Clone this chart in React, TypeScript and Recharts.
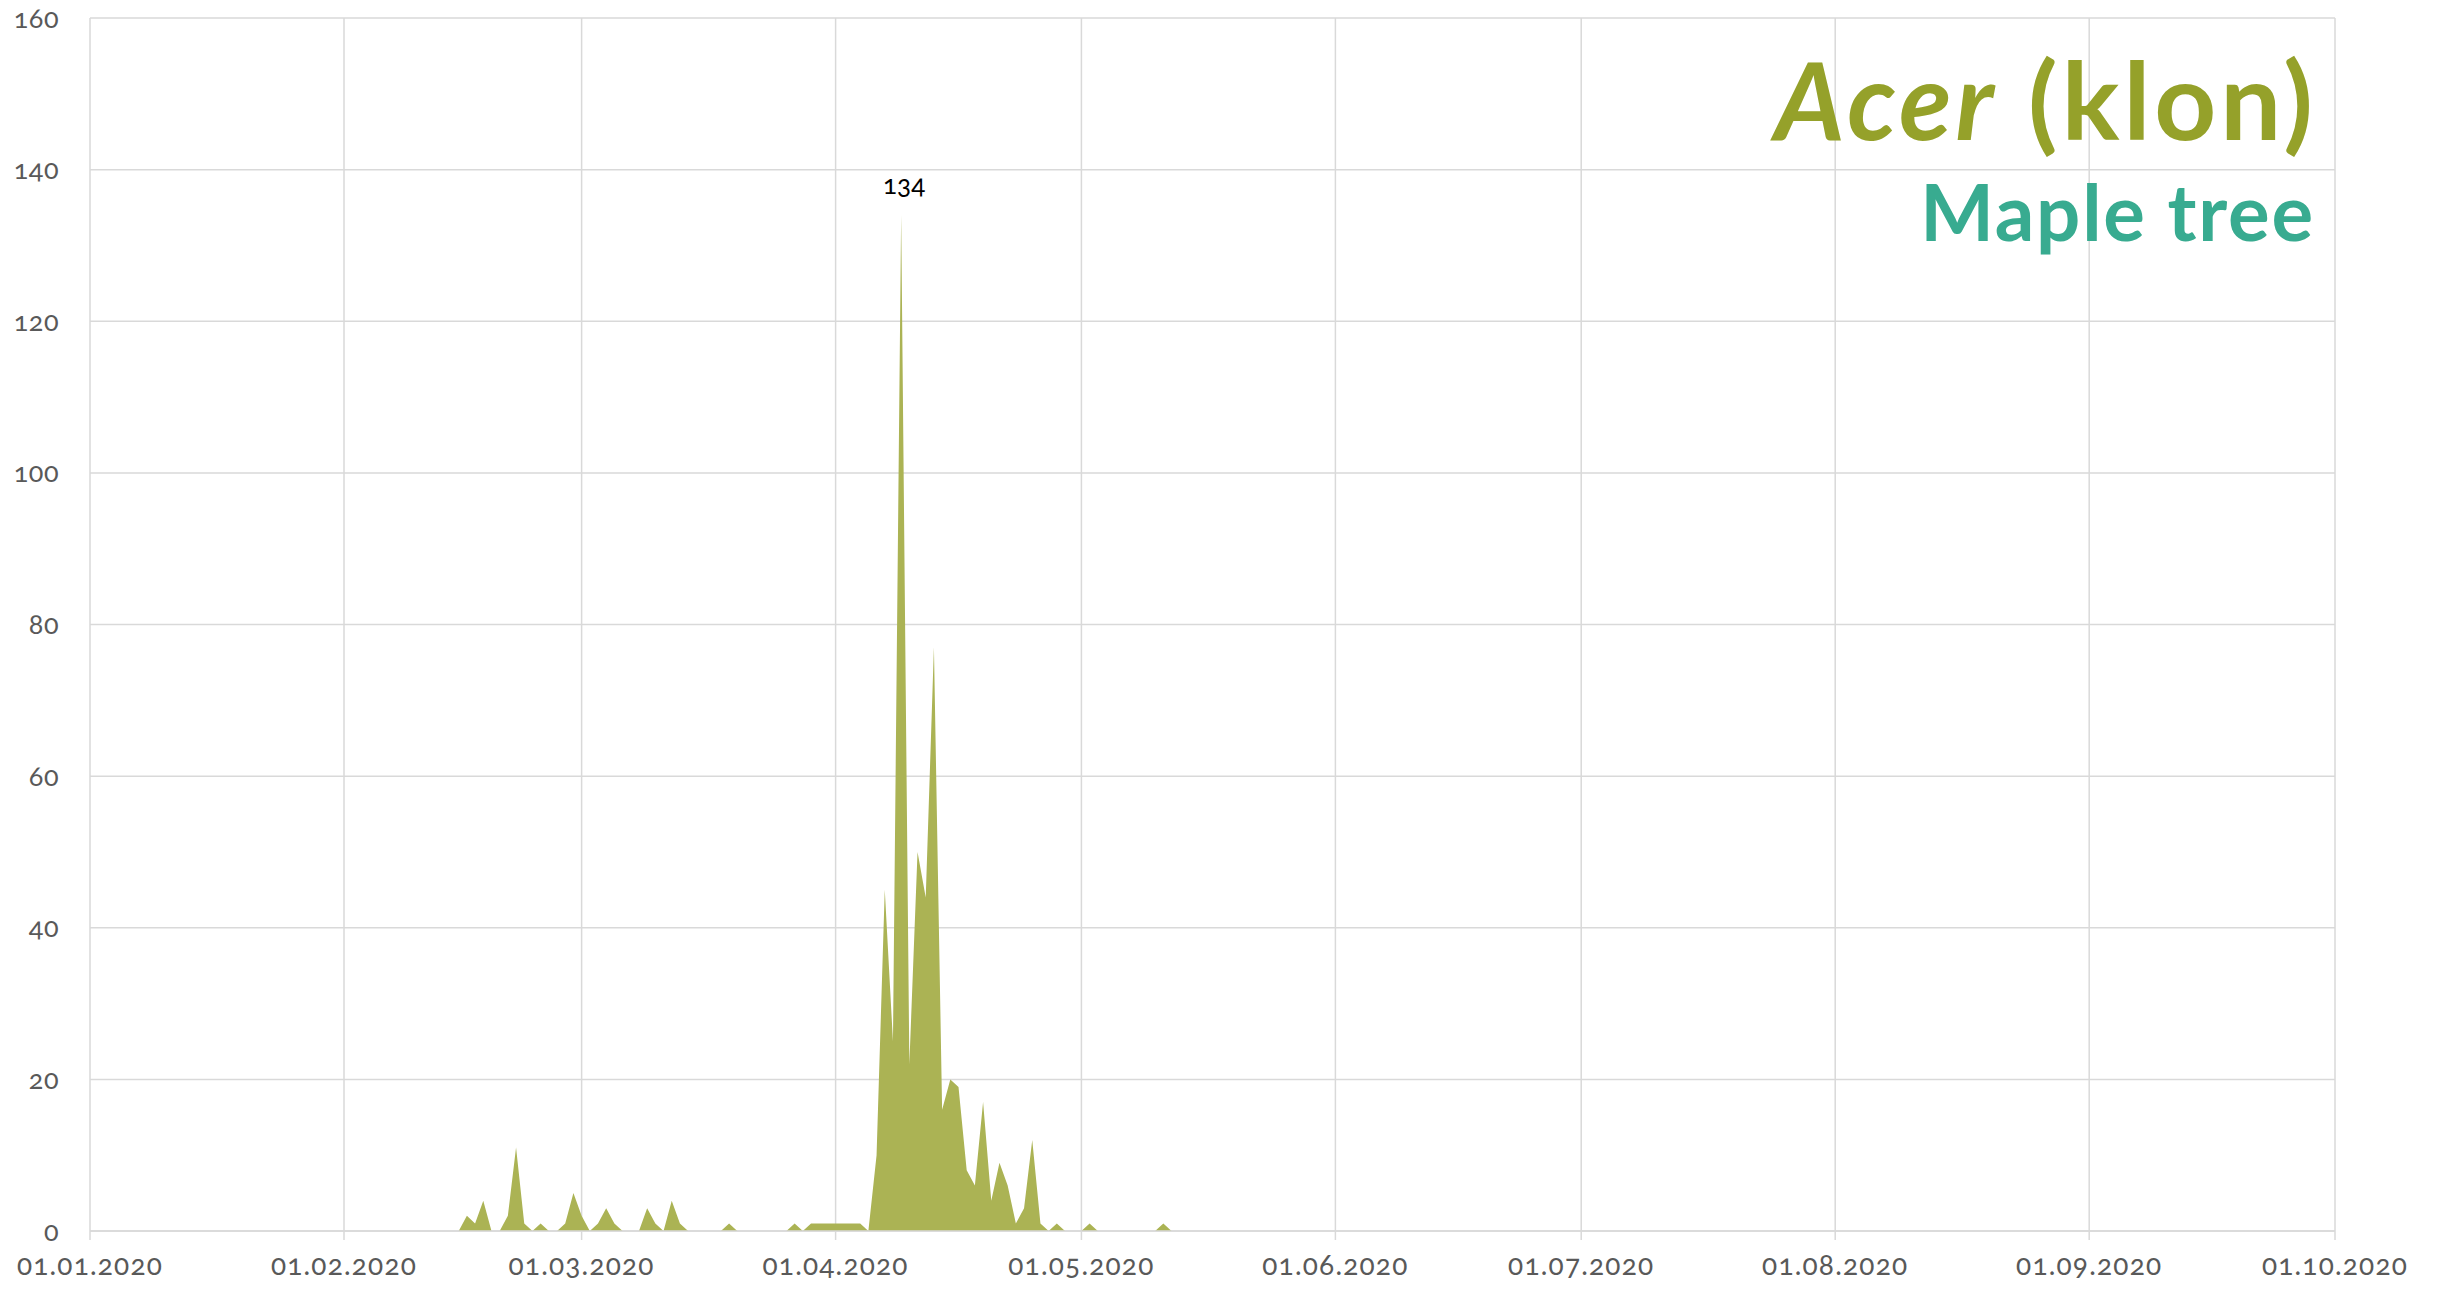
import React from 'react';
import { AreaChart, Area, XAxis, YAxis, CartesianGrid } from 'recharts';

const yearStart = '2020-01-01';
const seriesStart = '2020-02-15';
const axisEnd = '2020-10-01';

// Daily pollen counts starting at seriesStart
const pollenValues = [
  0, 2, 1, 4, 0, 0, 2, 11, 1, 0, 1, 0,
  0, 1, 5, 2, 0, 1, 3, 1, 0, 0, 0, 3, 1, 0, 4, 1, 0,
  0, 0, 0, 0, 1, 0, 0, 0, 0, 0, 0, 0, 1, 0,
  1, 1, 1, 1, 1, 1, 1, 0,
  10, 45, 25, 134, 22, 50, 44, 77, 16, 20, 19, 8, 6, 17, 4, 9, 6, 1, 3, 12, 1,
  0, 1, 0, 0, 0, 1, 0, 0, 0, 0, 0, 0, 0, 0, 1, 0,
];

const monthTickDates = [
  '2020-01-01', '2020-02-01', '2020-03-01', '2020-04-01', '2020-05-01',
  '2020-06-01', '2020-07-01', '2020-08-01', '2020-09-01', '2020-10-01',
];

const yTicks = [0, 20, 40, 60, 80, 100, 120, 140, 160];

const titleLatin = 'Acer';
const titleLocal = ' (klon)';
const subtitle = 'Maple tree';

const DAY = 86400000;
const toDay = (iso: string) => Math.round((Date.parse(iso + 'T00:00:00Z') - Date.parse(yearStart + 'T00:00:00Z')) / DAY);

const startDay = toDay(seriesStart);
const data = pollenValues.map((v, i) => ({ day: startDay + i, value: v }));
const xTicks = monthTickDates.map(toDay);
const peakValue = Math.max(...pollenValues);

const fmtDate = (d: number) => {
  const dt = new Date(Date.parse(yearStart + 'T00:00:00Z') + d * DAY);
  const dd = String(dt.getUTCDate()).padStart(2, '0');
  const mm = String(dt.getUTCMonth() + 1).padStart(2, '0');
  return `${dd}.${mm}.${dt.getUTCFullYear()}`;
};

const FONT = 'Lato, "Noto Sans", sans-serif';

const renderPeakLabel = (props: any) => {
  const { x, y, value, index } = props;
  if (value !== peakValue) return <g key={`l${index}`} />;
  return (
    <text key={`l${index}`} x={x + 3} y={y - 21} textAnchor="middle" fill="#000" fontSize={26} fontFamily={FONT}>
      {value}
    </text>
  );
};

export default function App() {
  return (
    <div
      style={{
        position: 'absolute', left: 0, top: 0, width: 2437, height: 1290, background: '#fff',
        fontFamily: FONT, fontVariantNumeric: 'oldstyle-nums',
      }}
    >
      <AreaChart width={2437} height={1290} data={data} margin={{ top: 18, right: 102, bottom: 0, left: 0 }}>
        <CartesianGrid stroke="#d9d9d9" strokeWidth={1.5} />
        <XAxis
          dataKey="day"
          type="number"
          domain={[0, toDay(axisEnd)]}
          ticks={xTicks}
          interval={0}
          tickFormatter={fmtDate}
          height={59}
          tickSize={9}
          tickMargin={15}
          stroke="#d9d9d9"
          tickLine={{ stroke: '#d9d9d9', strokeWidth: 1.5 }}
          axisLine={{ stroke: '#d9d9d9', strokeWidth: 1.5 }}
          tick={{ fill: '#595959', fontSize: 28, fontFamily: FONT, letterSpacing: 1.2 }}
        />
        <YAxis
          domain={[0, 160]}
          ticks={yTicks}
          interval={0}
          width={90}
          axisLine={false}
          tickLine={false}
          tickSize={0}
          tickMargin={31}
          tick={{ fill: '#595959', fontSize: 27, fontFamily: FONT, letterSpacing: 0.5 }}
        />
        <Area
          type="linear"
          dataKey="value"
          stroke="none"
          fill="#abb354"
          fillOpacity={1}
          isAnimationActive={false}
          dot={false}
          activeDot={false}
          label={renderPeakLabel}
        />
      </AreaChart>
      <svg
        width={2437}
        height={1290}
        style={{ position: 'absolute', left: 0, top: 0, pointerEvents: 'none' }}
      >
        <text x={2317} y={140} textAnchor="end" fontFamily={FONT} fontWeight={700} fontSize={108} letterSpacing={4} fill="#95a12a">
          <tspan fontStyle="italic">{titleLatin}</tspan>
          {titleLocal}
        </text>
        <text x={2315} y={241} textAnchor="end" fontFamily={FONT} fontWeight={700} fontSize={78} letterSpacing={1.8} fill="#38ab90">
          {subtitle}
        </text>
      </svg>
    </div>
  );
}
